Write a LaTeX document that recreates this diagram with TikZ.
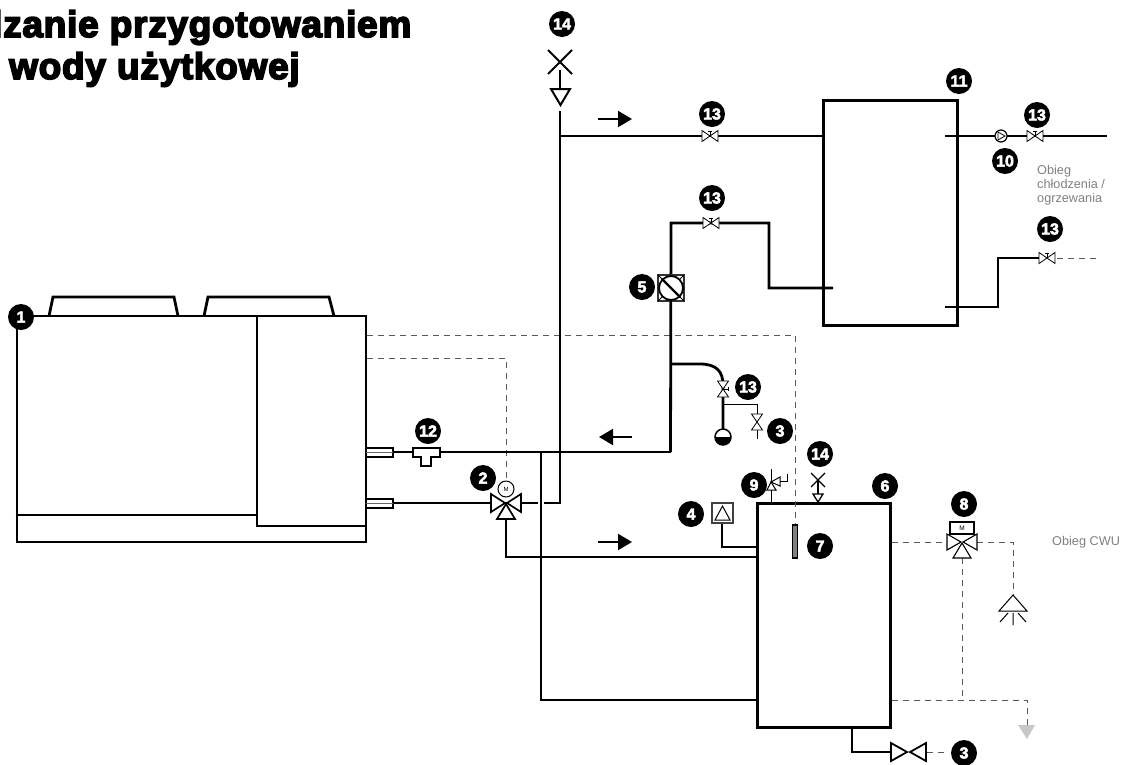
\documentclass[tikz,border=0pt]{standalone}
\usepackage{fontspec}
\setmainfont{Liberation Sans}
\newfontfamily\titlefont[UprightFont=* Bold,FakeBold=4.5,LetterSpace=2]{Liberation Sans}
\newfontfamily\badgefont[UprightFont=* Bold,FakeBold=3]{Liberation Sans}
\newfontfamily\lightfont{Liberation Sans}
\tikzset{
  pipe/.style={line width=2.8pt,black,line join=miter},
  midpipe/.style={line width=2.2pt,black},
  thin line/.style={line width=1pt,black},
  ctrl/.style={line width=1pt,draw=black!65,dash pattern=on 6pt off 5pt},
  sym/.style={line width=.8pt,draw=black,fill=white},
  symb/.style={line width=1.7pt,draw=black,fill=white},
  badge/.style={circle,fill=black,text=white,minimum size=26pt,inner sep=0pt,font=\badgefont\fontsize{16}{16}\selectfont},
  note/.style={text=black!50,font=\lightfont\fontsize{12.7}{14}\selectfont,align=left,inner sep=0pt},
  ttl/.style={font=\titlefont\fontsize{37}{37}\selectfont,inner sep=0pt,anchor=base west},
  flow/.style={line width=2pt,black,-{Triangle[length=14pt,width=16pt]}},
  pics/smallvalve/.style={code={
    \path[sym] (-8,-5.5)--(0,0)--(-8,5.5)--cycle;
    \path[sym] (8,-5.5)--(0,0)--(8,5.5)--cycle;
    \draw[line width=1pt] (0,0)--(0,-5) (-2,-5)--(2,-5);
  }},
  pics/plainvalve/.style={code={
    \path[sym] (-8,-5.5)--(0,0)--(-8,5.5)--cycle;
    \path[sym] (8,-5.5)--(0,0)--(8,5.5)--cycle;
  }},
  pics/threeway/.style={code={
    \path[symb] (-15,-9)--(-1,0)--(-15,9)--cycle;
    \path[symb] (15,-9)--(1,0)--(15,9)--cycle;
    \path[symb] (-9,16)--(0,1)--(9,16)--cycle;
  }},
}
\usetikzlibrary{arrows.meta}
\begin{document}
\begin{tikzpicture}[x=1pt,y=-1pt]
\useasboundingbox (0,0) rectangle (1129,764);
% title
\node[ttl] (t1) at (-8,37) {lzanie przygotowaniem};
\node[ttl] (t2) at (9,79) {wody użytkowej};

% named points
\coordinate (s1) at (393,452);
\coordinate (s2) at (393,503);
\coordinate (v2) at (506,503);
\coordinate (j1) at (670.5,452);
\coordinate (j2) at (541,452);
\coordinate (v13b) at (711,223);
\coordinate (v13a) at (710,136);
\coordinate (v13c) at (1035,136);
\coordinate (v13d) at (1047,258);
\coordinate (v13e) at (723,389);
\coordinate (v3a) at (757,422);
\coordinate (v8) at (962,542);
\coordinate (exp) at (723,437);
\coordinate (pump) at (1001,136);
\coordinate (spray) at (1013,595);
\coordinate (drain) at (1027,725);

% heat pump unit
\node[draw,line width=2.8pt,minimum width=349pt,minimum height=226pt,inner sep=0pt] (unit) at (191.5,429) {};
\node[draw,line width=2.8pt,minimum width=109pt,minimum height=210pt,inner sep=0pt] (panel) at (311.5,421) {};
\draw[pipe] (unit.west |- 0,515) -- (panel.west |- 0,515);
\draw[pipe] (49,316)--(53,297)--(174,297)--(178,316);
\draw[pipe] (204,316)--(208,297)--(329,297)--(334,316);
\draw[line width=1.6pt,fill=white] (366,448) rectangle (393,457);
\draw[line width=.8pt,black!60] (366,452.5)--(393,452.5);
\draw[line width=1.6pt,fill=white] (366,499) rectangle (393,508);
\draw[line width=.8pt,black!60] (366,503.5)--(393,503.5);

% tanks
\node[draw,line width=3pt,minimum width=134pt,minimum height=225pt,inner sep=0pt] (tank) at (890,212.5) {};
\node[draw,line width=3pt,minimum width=133pt,minimum height=224pt,inner sep=0pt] (cwu) at (823.5,615) {};

% control dashed
\draw[ctrl] (unit.east |- 0,335) -| (795,525);
\draw[ctrl] (unit.east |- 0,358) -| (506,480);
\draw[ctrl] (cwu.east |- 0,542) -- (947,542);
\draw[ctrl] (977,542) -| (spray);
\draw[ctrl] (962,558) -- (962,700);
\draw[ctrl] (cwu.east |- 0,700) -| (drain);
\draw[ctrl] (1057,258) -- (1100,258);
\draw[ctrl] (927,752) -- (945,752);

% pipes
\draw[midpipe] (s1) -- (j1);
\draw[pipe] (j1) -- (671,223) -- (v13b) -- (769,223) -- (769,288) -- (833,288);
\draw[midpipe] (j2) -- (541,700) -- (cwu.west |- 0,700);
\draw[midpipe] (s2) -- (538,503);
\draw[midpipe] (544,503) -- (560,503) -- (560,111);
\draw[midpipe] (560,136) -- (tank.west |- 0,136);
\draw[midpipe] (v2) -- (506,557) -- (cwu.west |- 0,557);
\draw[midpipe] (945,136) -- (1107,136);
\draw[midpipe] (945,307) -- (998,307) -- (998,258) -- (1039,258);
\draw[pipe] (671,364) -- (700,364) .. controls (716,364) and (723,371) .. (723,385) -- (exp);
\draw[thin line] (723,404) -- (757,404) -- (757,439);
\draw[line width=1.2pt] (722,523) -- (722,547) -- (757,547);
\draw[pipe] (852,727) -- (852,752) -- (891,752);

% flow arrows
\coordinate (a1s) at (632,437); \coordinate (a1e) at (599,437);
\coordinate (a2s) at (598,542); \coordinate (a2e) at (632,542);
\coordinate (a3s) at (598,119); \coordinate (a3e) at (632,119);
\draw[flow] (a1s) -- (a1e);
\draw[flow] (a2s) -- (a2e);
\draw[flow] (a3s) -- (a3e);

% tee 12
\draw[line width=1.6pt,fill=white] (413,448) -- (440,448) -- (440,457) -- (431,457) -- (431,466) -- (421,466) -- (421,457) -- (413,457) -- cycle;

% valves
\path (v2) pic {threeway};
\node[circle,draw,line width=1pt,fill=white,minimum size=16pt,inner sep=0pt,font=\fontsize{6}{6}\selectfont] (m2) at (506,489) {M};
\path (v13a) pic {smallvalve};
\path (v13b) pic {smallvalve};
\path (v13c) pic {smallvalve};
\path (v13d) pic {smallvalve};
\path (v13e) pic[rotate=-90] {smallvalve};
\path (v3a) pic[rotate=90] {plainvalve};
\node[circle,draw,line width=1.2pt,fill=white,minimum size=12pt,inner sep=0pt] (p10) at (pump) {};
\draw[line width=.8pt] (998,132)--(1005,136)--(998,140)--cycle;
\draw[line width=1.8pt,fill=white] (891,743) -- (907,752) -- (891,761) -- cycle;
\draw[line width=1.8pt,fill=white] (926,743) -- (910,752) -- (926,761) -- cycle;

% three-way valve 8
\node[draw,line width=1.2pt,fill=white,minimum width=24pt,minimum height=12pt,inner sep=0pt,font=\fontsize{6.5}{6.5}\selectfont] (m8) at (962,528) {M};
\path[sym,line width=1.1pt] (947,534) -- (961,542) -- (947,550) -- cycle;
\path[sym,line width=1.1pt] (977,534) -- (963,542) -- (977,550) -- cycle;
\path[sym,line width=1.1pt] (953,558) -- (962,543) -- (971,558) -- cycle;

% spray
\draw[line width=1pt,fill=white] (999,611) -- (1013,595) -- (1027,611) -- cycle;
\draw[line width=1pt] (1013,613)--(1013,625) (1008,613)--(1000,622) (1018,613)--(1026,622);

% expansion vessel
\node[circle,draw,line width=1.5pt,fill=white,minimum size=16pt,inner sep=0pt] (ev) at (exp) {};
\fill (715,437) arc[start angle=180,end angle=0,radius=8] -- cycle;

% filter 5
\node[draw,line width=1.5pt,black!80,fill=white,minimum size=26pt,inner sep=0pt] (f5) at (671,288) {};
\draw[line width=1.8pt,fill=white] (671,288) circle[radius=12];
\draw[line width=2.2pt] (662,279) -- (680,297);
\draw[line width=.8pt] (658,275)--(662,279) (684,275)--(680,279) (658,301)--(662,297) (684,301)--(680,297);
\draw[pipe] (671,301) -- (671,310);

% vent 14 top
\draw[line width=2pt] (548,50) -- (572,74) (548,74) -- (572,50);
\draw[line width=2pt] (560,70) -- (560,88);
\draw[line width=2pt,fill=white] (551,89) -- (570,89) -- (560.5,105) -- cycle;

% vent 14 tank
\draw[line width=1.3pt] (811,473) -- (825,487) (811,487) -- (825,473);
\draw[line width=1.3pt] (818,480) -- (818,494);
\draw[line width=1.3pt,fill=white] (813,494) -- (823,494) -- (818,502) -- cycle;

% safety valve 9
\draw[line width=1pt] (771,469) -- (771,503);
\draw[line width=1pt,fill=white] (771,482) -- (767,490) -- (776,490) -- cycle;
\draw[line width=1pt,fill=white] (771,482) -- (780,477) -- (780,486) -- cycle;
\draw[line width=1pt] (780,481) -- (787,481) -- (787,474);

% sensor 4 and 7
\node[draw,line width=1.2pt,draw=black!75,fill=white,minimum width=21pt,minimum height=20pt,inner sep=0pt] (s4) at (722.5,513) {};
\draw[line width=1pt] (722.5,506) -- (715,520) -- (730,520) -- cycle;
\node[draw,line width=1.5pt,fill=black!50,minimum width=5pt,minimum height=33pt,inner sep=0pt] (s7) at (795,541.5) {};

% drain arrow
\fill[black!22] (1018,725) -- (1035,725) -- (1027,739) -- cycle;

% badges
\node[badge] (b1) at (21,317) {1};
\node[badge] (b2) at (483,478) {2};
\node[badge] (b3a) at (780,431) {3};
\node[badge] (b3b) at (964,753) {3};
\node[badge] (b4) at (691,514) {4};
\node[badge] (b5) at (642,287) {5};
\node[badge] (b6) at (885,486) {6};
\node[badge] (b7) at (820,546) {7};
\node[badge] (b8) at (964,504) {8};
\node[badge] (b9) at (754,485) {9};
\node[badge] (b10) at (1005,161) {10};
\node[badge] (b11) at (959,81) {11};
\node[badge] (b12) at (428,431) {12};
\node[badge] (b13a) at (712,114) {13};
\node[badge] (b13b) at (712,198) {13};
\node[badge] (b13c) at (1037,115) {13};
\node[badge] (b13d) at (1050,229) {13};
\node[badge] (b13e) at (748,387) {13};
\node[badge] (b14a) at (562,24) {14};
\node[badge] (b14b) at (820,454) {14};

% labels
\node[note,anchor=west] (n1) at (1037,185) {Obieg\\chłodzenia /\\ogrzewania};
\node[note,anchor=west] (n2) at (1052,542) {Obieg CWU};
\end{tikzpicture}
\end{document}
